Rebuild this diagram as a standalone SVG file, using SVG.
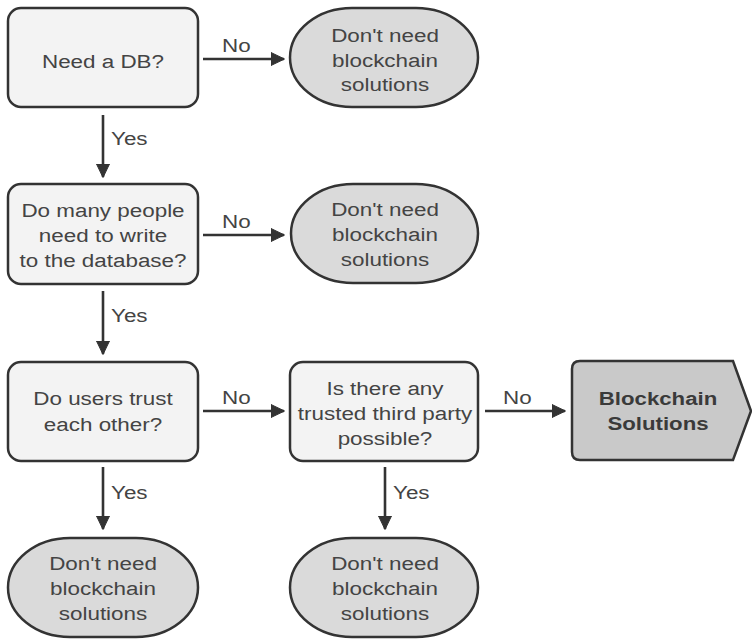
<svg xmlns="http://www.w3.org/2000/svg" width="752" height="640" viewBox="0 0 752 640">
  <style>
    .box { fill: #f3f3f3; stroke: #333; stroke-width: 2.5; }
    .term { fill: #dadada; stroke: #333; stroke-width: 2.5; }
    .result { fill: #c9c9c9; stroke: #333; stroke-width: 2.5; }
    .t { font-family: "Liberation Sans", Arial, sans-serif; font-size: 19px; fill: #444; text-anchor: middle; }
    .b { font-weight: bold; fill: #3a3a3a; }
    .lbl { font-family: "Liberation Sans", Arial, sans-serif; font-size: 19px; fill: #444; }
    .edge { stroke: #333; stroke-width: 2.6; fill: none; marker-end: url(#head); }
  </style>
  <defs>
    <marker id="head" viewBox="0 0 14 14" refX="13" refY="7" markerWidth="14" markerHeight="14" markerUnits="userSpaceOnUse" orient="auto">
      <path d="M0,0.5 L13.5,7 L0,13.5 Z" fill="#333" stroke="#333" stroke-width="1" stroke-linejoin="round"/>
    </marker>
  </defs>
  <rect width="752" height="640" fill="#ffffff"/>

  <!-- connectors; labels use a wide (1.18x) text face -->
  <g id="connectors">
    <line class="edge" x1="203" y1="59" x2="284" y2="59"/>
    <text class="lbl" transform="translate(222 52) scale(1.18 1)">No</text>
    <line class="edge" x1="103" y1="115" x2="103" y2="177"/>
    <text class="lbl" transform="translate(111 145) scale(1.18 1)">Yes</text>

    <line class="edge" x1="203" y1="235" x2="284" y2="235"/>
    <text class="lbl" transform="translate(222 228) scale(1.18 1)">No</text>
    <line class="edge" x1="103" y1="291" x2="103" y2="354"/>
    <text class="lbl" transform="translate(111 322) scale(1.18 1)">Yes</text>

    <line class="edge" x1="203" y1="411" x2="284" y2="411"/>
    <text class="lbl" transform="translate(222 404) scale(1.18 1)">No</text>
    <line class="edge" x1="485" y1="411" x2="565" y2="411"/>
    <text class="lbl" transform="translate(503 404) scale(1.18 1)">No</text>

    <line class="edge" x1="103" y1="467" x2="103" y2="529"/>
    <text class="lbl" transform="translate(111 499) scale(1.18 1)">Yes</text>
    <line class="edge" x1="385" y1="467" x2="385" y2="529"/>
    <text class="lbl" transform="translate(393 499) scale(1.18 1)">Yes</text>
  </g>

  <!-- decisions -->
  <g id="need-db">
    <rect class="box" x="8" y="8" width="190" height="99" rx="13"/>
    <g transform="translate(103 0) scale(1.18 1)">
      <text class="t" x="0" y="68">Need a DB?</text>
    </g>
  </g>
  <g id="many-writers">
    <rect class="box" x="8" y="184" width="190" height="100" rx="13"/>
    <g transform="translate(103 0) scale(1.18 1)">
      <text class="t" x="0" y="217">Do many people</text>
      <text class="t" x="0" y="242">need to write</text>
      <text class="t" x="0" y="267">to the database?</text>
    </g>
  </g>
  <g id="users-trust">
    <rect class="box" x="8" y="362" width="190" height="99" rx="13"/>
    <g transform="translate(103 0) scale(1.18 1)">
      <text class="t" x="0" y="405">Do users trust</text>
      <text class="t" x="0" y="431">each other?</text>
    </g>
  </g>
  <g id="third-party">
    <rect class="box" x="290" y="362" width="188" height="99" rx="13"/>
    <g transform="translate(385 0) scale(1.18 1)">
      <text class="t" x="0" y="395">Is there any</text>
      <text class="t" x="0" y="420">trusted third party</text>
      <text class="t" x="0" y="445">possible?</text>
    </g>
  </g>

  <!-- outcomes -->
  <g id="no-chain-1">
    <rect class="term" x="290" y="8" width="188" height="99" rx="62" ry="49.5"/>
    <g transform="translate(385 0) scale(1.18 1)">
      <text class="t" x="0" y="42">Don't need</text>
      <text class="t" x="0" y="67">blockchain</text>
      <text class="t" x="0" y="91">solutions</text>
    </g>
  </g>
  <g id="no-chain-2">
    <rect class="term" x="291" y="184" width="187" height="99" rx="62" ry="49.5"/>
    <g transform="translate(385 0) scale(1.18 1)">
      <text class="t" x="0" y="216">Don't need</text>
      <text class="t" x="0" y="241">blockchain</text>
      <text class="t" x="0" y="266">solutions</text>
    </g>
  </g>
  <g id="no-chain-3">
    <rect class="term" x="8" y="538" width="190" height="99" rx="62" ry="49.5"/>
    <g transform="translate(103 0) scale(1.18 1)">
      <text class="t" x="0" y="570">Don't need</text>
      <text class="t" x="0" y="595">blockchain</text>
      <text class="t" x="0" y="620">solutions</text>
    </g>
  </g>
  <g id="no-chain-4">
    <rect class="term" x="290" y="538" width="188" height="99" rx="62" ry="49.5"/>
    <g transform="translate(385 0) scale(1.18 1)">
      <text class="t" x="0" y="570">Don't need</text>
      <text class="t" x="0" y="595">blockchain</text>
      <text class="t" x="0" y="620">solutions</text>
    </g>
  </g>
  <g id="blockchain">
    <path class="result" d="M580,361 L733,361 L751,411 L733,460 L580,460 Q572,460 572,452 L572,369 Q572,361 580,361 Z"/>
    <g transform="translate(658 0) scale(1.17 1)">
      <text class="t b" x="0" y="405">Blockchain</text>
      <text class="t b" x="0" y="430">Solutions</text>
    </g>
  </g>
</svg>
